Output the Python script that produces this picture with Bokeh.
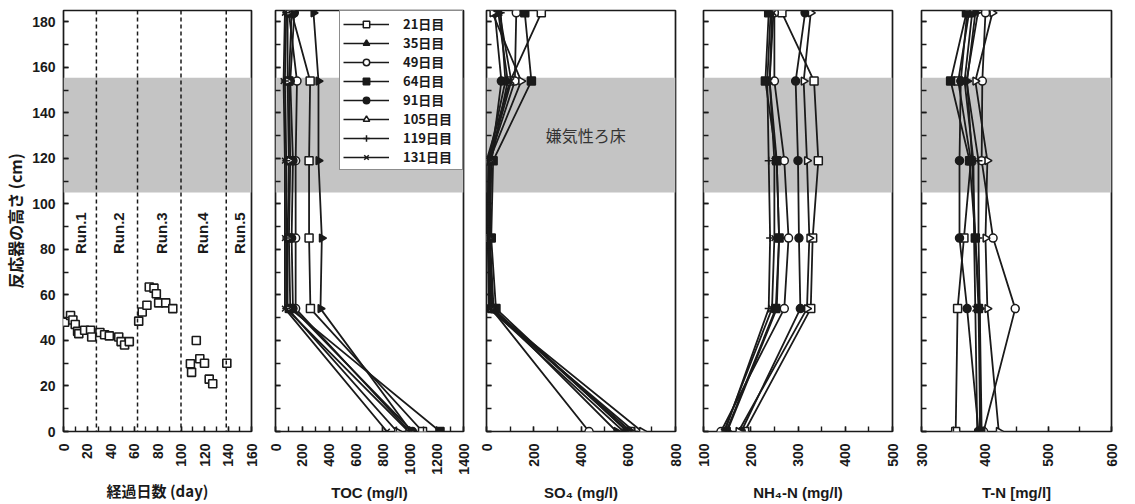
import numpy as np
from bokeh.plotting import figure
from bokeh.layouts import row
from bokeh.models import (Range1d, SingleIntervalTicker, BoxAnnotation, Span,
                          Legend, LegendItem, CustomLabelingPolicy)
from bokeh.core.properties import value
from bokeh.embed import file_html
from bokeh.resources import INLINE

# ---------------- data ----------------
heights = [0, 54, 85, 119, 154, 184]
days = [21, 35, 49, 64, 91, 105, 119, 131]
series_labels = ["21日目", "35日目", "49日目", "64日目", "91日目", "105日目", "119日目", "131日目"]

toc = {
    21: [1095, 260, 250, 250, 258, 120],
    35: [1010, 335, 345, 320, 320, 283],
    49: [1000, 150, 150, 150, 160, 100],
    64: [1225, 110, 100, 110, 100, 120],
    91: [1020, 130, 120, 130, 110, 140],
    105: [905, 90, 90, 100, 90, 90],
    119: [990, 80, 80, 80, 70, 80],
    131: [830, 70, 70, 70, 60, 70],
}
so4 = {
    21: [611, 25, 5, 0, 100, 232],
    35: [550, 30, 15, 20, 90, 50],
    49: [434, 20, 10, 10, 120, 126],
    64: [595, 40, 20, 28, 190, 162],
    91: [600, 25, 12, 20, 63, 35],
    105: [658, 15, 8, 12, 147, 25],
    119: [625, 10, 5, 8, 80, 60],
    131: [580, 15, 10, 10, 105, 55],
}
nh4 = {
    21: [187, 327, 331, 343, 334, 266],
    35: [150, 255, 260, 255, 240, 245],
    49: [137, 271, 280, 271, 250, 250],
    64: [148, 253, 260, 255, 231, 238],
    91: [180, 305, 302, 300, 295, 315],
    105: [174, 319, 324, 319, 312, 327],
    119: [145, 238, 241, 238, 235, 242],
    131: [143, 245, 250, 250, 240, 248],
}
tn = {
    21: [354, 357, 367, 378, 358, 375],
    35: [395, 392, 385, 380, 372, 385],
    49: [398, 448, 413, 395, 396, 401],
    64: [393, 390, 385, 376, 346, 371],
    91: [390, 372, 360, 360, 362, 372],
    105: [422, 404, 401, 404, 385, 412],
    119: [392, 392, 390, 390, 371, 389],
    131: [388, 385, 383, 382, 368, 380],
}

run_days = [0, 1, 6, 8, 10, 12, 13, 18, 23, 24, 31, 35, 39, 47, 49, 52, 56,
            64, 67, 71, 73, 77, 79, 81, 87, 93,
            108, 109, 113, 116, 120, 124, 127, 139]
run_heights = [48, 48, 51, 49, 47, 44, 43, 44.5, 44.5, 41.5, 43.5, 42.5, 42, 41.5, 39.5, 38, 39.5,
               48.5, 52.5, 55.5, 63.5, 63, 60.5, 56.5, 56.5, 54,
               29.8, 26, 40, 32, 30, 23, 21, 30]
run_bounds = [28, 63, 100, 138.5]
run_names = ["Run.1", "Run.2", "Run.3", "Run.4", "Run.5"]
run_label_x = [14.5, 47, 83, 118.5, 150]

# ---------------- style ----------------
INK = "#1a1a1a"
LAT = "Liberation Sans"
CJK = "Noto Sans CJK JP"
markers = ["square", "triangle", "circle", "square", "circle", "triangle", "cross", "x"]
filled = [False, True, False, True, True, False, True, True]
plot_angles = [0, -np.pi / 2, 0, 0, 0, -np.pi / 2, 0, 0]
Y_RANGE = (0, 185)
FRAME_H = 421
HIDE_LABELS = CustomLabelingPolicy(code="""
    const all = [];
    for (const i of indices) all.push(i);
    for (const i of all) indices.unset(i);
    return indices;
""")


def make_panel(xr, interval, left_border, frame_w, xlabel, xlabel_font, xlabel_standoff,
               show_ylabels=False, right_border=10):
    p = figure(output_backend="svg", toolbar_location=None,
               frame_width=frame_w, frame_height=FRAME_H,
               x_range=Range1d(*xr), y_range=Range1d(*Y_RANGE),
               min_border=0, min_border_left=left_border, min_border_right=right_border,
               min_border_top=10, min_border_bottom=66)
    p.grid.visible = False
    p.outline_line_color = INK
    p.outline_line_width = 1.7
    p.background_fill_color = "white"
    p.border_fill_color = "white"

    p.add_layout(BoxAnnotation(bottom=105, top=155.5, fill_color="#c4c4c4", fill_alpha=1.0,
                               line_color=None, level="underlay"))

    xa = p.xaxis[0]
    xa.ticker = SingleIntervalTicker(interval=interval, num_minor_ticks=2)
    xa.major_label_orientation = np.pi / 2
    xa.major_label_standoff = 12
    xa.major_tick_in = 5
    xa.major_tick_out = 0
    xa.minor_tick_in = 5
    xa.minor_tick_out = 0
    xa.axis_line_color = None
    xa.major_tick_line_color = INK
    xa.minor_tick_line_color = INK
    xa.major_tick_line_width = 1.4
    xa.minor_tick_line_width = 1.4
    xa.major_label_text_font = LAT
    xa.major_label_text_font_style = "bold"
    xa.major_label_text_font_size = "14px"
    xa.major_label_text_color = INK
    xa.axis_label = xlabel
    xa.axis_label_text_font = xlabel_font
    xa.axis_label_text_font_style = "bold"
    xa.axis_label_text_font_size = "15px"
    xa.axis_label_text_color = INK
    xa.axis_label_standoff = xlabel_standoff

    ya = p.yaxis[0]
    ya.ticker = SingleIntervalTicker(interval=20, num_minor_ticks=2)
    ya.major_tick_in = 5
    ya.major_tick_out = 0
    ya.minor_tick_in = 5
    ya.minor_tick_out = 0
    ya.axis_line_color = None
    ya.major_tick_line_color = INK
    ya.minor_tick_line_color = INK
    ya.major_tick_line_width = 1.4
    ya.minor_tick_line_width = 1.4
    if show_ylabels:
        ya.major_label_text_font = LAT
        ya.major_label_text_font_style = "bold"
        ya.major_label_text_font_size = "14px"
        ya.major_label_text_color = INK
        ya.major_label_standoff = 8
        ya.axis_label = "反応器の高さ (cm)"
        ya.axis_label_text_font = CJK
        ya.axis_label_text_font_style = "bold"
        ya.axis_label_text_font_size = "16px"
        ya.axis_label_text_color = INK
        ya.axis_label_standoff = 2
    else:
        ya.major_label_policy = HIDE_LABELS
        ya.major_label_text_font_size = "2px"
        ya.major_label_standoff = 0
    return p


def draw_profiles(p, data):
    for i, d in enumerate(days):
        xs = data[d]
        p.line(xs, heights, line_color=INK, line_width=1.8)
        p.scatter(xs, heights, marker=markers[i], size=8, angle=plot_angles[i],
                  line_color=INK, line_width=1.5,
                  fill_color=INK if filled[i] else "white")


# Panel 1: elapsed days
p1 = make_panel((0, 160), 20, 57, 188, "経過日数 (day)", CJK, 10, show_ylabels=True)
for b in run_bounds:
    p1.add_layout(Span(location=b, dimension="height", line_color=INK, line_width=1.5,
                       line_dash="4 3"))
p1.scatter(run_days, run_heights, marker="square", size=8, line_color=INK,
           line_width=1.6, fill_color="white")
p1.text(x=run_label_x, y=[78] * len(run_names), text=run_names, angle=np.pi / 2,
        text_align="left", text_baseline="middle", text_font=value(LAT),
        text_font_style="bold", text_font_size="15px", text_color=INK)

# Panel 2: TOC
p2 = make_panel((0, 1400), 200, 14, 188, "TOC (mg/l)", LAT, 6)
draw_profiles(p2, toc)
items = []
for i, lab in enumerate(series_labels):
    lr = p2.line([np.nan], [np.nan], line_color=INK, line_width=1.6)
    sr = p2.scatter([np.nan], [np.nan], marker=markers[i], size=8, line_color=INK,
                    line_width=1.5, fill_color=INK if filled[i] else "white")
    items.append(LegendItem(label=lab, renderers=[lr, sr]))
legend = Legend(items=items, location="top_right", margin=0, padding=3, spacing=0,
                glyph_width=46, glyph_height=16, label_height=16, label_width=56,
                label_standoff=14,
                label_text_font=CJK, label_text_font_style="bold",
                label_text_font_size="13px", label_text_color=INK,
                border_line_color=INK, border_line_width=1.5,
                background_fill_color="white", background_fill_alpha=1.0)
p2.add_layout(legend)

# Panel 3: SO4
p3 = make_panel((0, 800), 200, 13, 189, "SO₄ (mg/l)", LAT, 14)
draw_profiles(p3, so4)
p3.text(x=[420], y=[130.5], text=["嫌気性ろ床"], text_align="center",
        text_baseline="middle", text_font=value(CJK), text_font_size="16px",
        text_color="#333333")

# Panel 4: NH4-N
p4 = make_panel((100, 500), 100, 18, 189, "NH₄-N (mg/l)", LAT, 14)
draw_profiles(p4, nh4)

# Panel 5: T-N
p5 = make_panel((300, 600), 100, 19, 190, "T-N [mg/l]", LAT, 14)
draw_profiles(p5, tn)

layout = row(p1, p2, p3, p4, p5, spacing=0)
open("out.html", "w").write(file_html(layout, INLINE))
